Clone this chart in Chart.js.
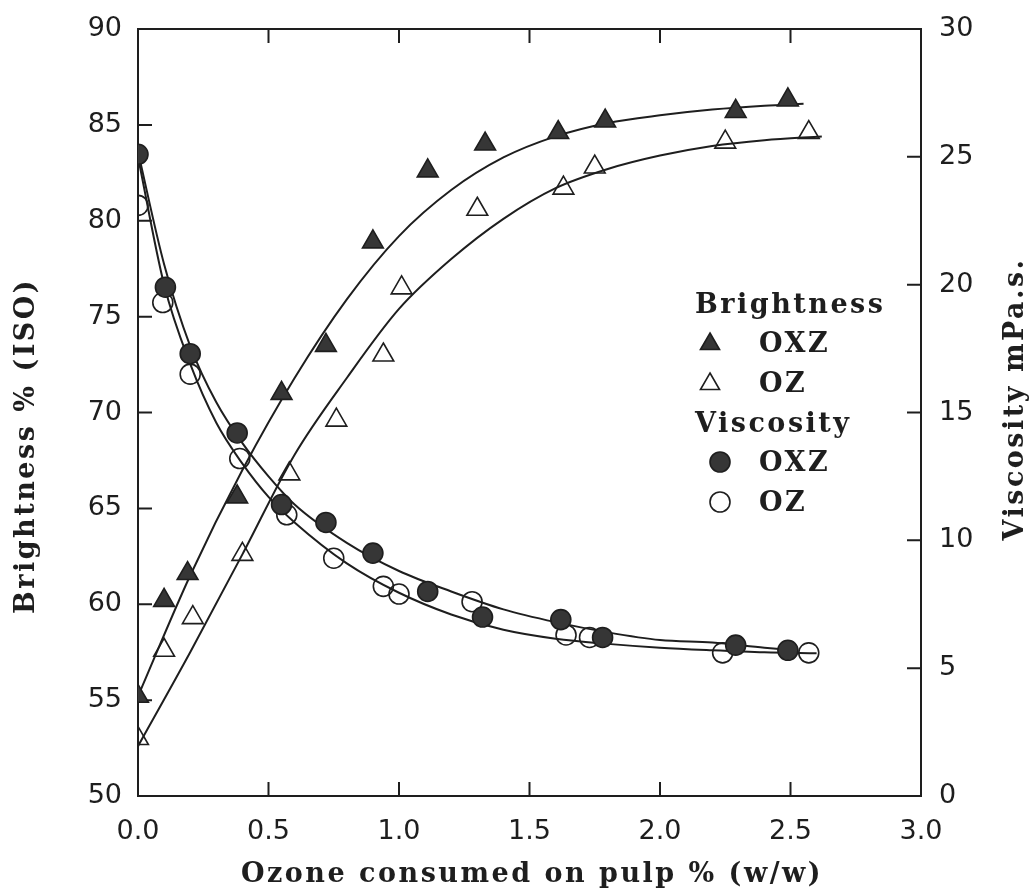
<!DOCTYPE html>
<html>
<head>
<meta charset="utf-8">
<script src="https://cdn.jsdelivr.net/npm/chart.js@4/dist/chart.umd.min.js"></script>
<style>html,body{margin:0;background:#fff}</style>
</head>
<body>
<canvas id="c" width="1033" height="894"></canvas>
<script>
// measured points - brightness (left axis)
const bOXZ_x = [0.00, 0.10, 0.19, 0.38, 0.55, 0.72, 0.90, 1.11, 1.33, 1.61, 1.79, 2.29, 2.49]
const bOXZ_y = [55.2, 60.2, 61.6, 65.6, 71.0, 73.5, 78.9, 82.6, 84.0, 84.6, 85.2, 85.7, 86.3]
const bOZ_x = [0.00, 0.10, 0.21, 0.40, 0.58, 0.76, 0.94, 1.01, 1.30, 1.63, 1.75, 2.25, 2.57]
const bOZ_y = [53.0, 57.6, 59.3, 62.6, 66.8, 69.6, 73.0, 76.5, 80.6, 81.7, 82.8, 84.1, 84.6]

// measured points - viscosity (right axis)
const vOXZ_x = [0.00, 0.105, 0.20, 0.38, 0.55, 0.72, 0.90, 1.11, 1.32, 1.62, 1.78, 2.29, 2.49]
const vOXZ_y = [25.1, 19.9, 17.3, 14.2, 11.4, 10.7, 9.5, 8.0, 7.0, 6.9, 6.2, 5.9, 5.7]
const vOZ_x = [0.00, 0.095, 0.20, 0.39, 0.57, 0.75, 0.94, 1.00, 1.28, 1.64, 1.73, 2.24, 2.57]
const vOZ_y = [23.1, 19.3, 16.5, 13.2, 11.0, 9.3, 8.2, 7.9, 7.6, 6.3, 6.2, 5.6, 5.6]

// fitted curves
const fitBOXZ_x = [0, 0.2, 0.4, 0.6, 0.8, 1.0, 1.2, 1.4, 1.6, 1.8, 2.0, 2.2, 2.4, 2.55]
const fitBOXZ_y = [55.2, 61.5, 67.0, 71.8, 75.9, 79.2, 81.6, 83.3, 84.4, 85.1, 85.5, 85.8, 86.0, 86.1]
const fitBOZ_x = [0, 0.2, 0.4, 0.6, 0.8, 1.0, 1.2, 1.4, 1.6, 1.8, 2.0, 2.2, 2.4, 2.62]
const fitBOZ_y = [52.6, 57.5, 62.6, 67.8, 71.8, 75.4, 78.0, 80.1, 81.7, 82.7, 83.4, 83.9, 84.2, 84.4]
const fitVOXZ_x = [0, 0.1, 0.2, 0.3, 0.4, 0.5, 0.6, 0.8, 1.0, 1.2, 1.4, 1.6, 1.8, 2.0, 2.2, 2.4, 2.52]
const fitVOXZ_y = [25.2, 20.8, 17.6, 15.4, 13.8, 12.5, 11.4, 9.9, 8.8, 8.0, 7.3, 6.8, 6.4, 6.1, 6.0, 5.8, 5.7]
const fitVOZ_x = [0, 0.1, 0.2, 0.3, 0.4, 0.5, 0.6, 0.8, 1.0, 1.2, 1.4, 1.6, 1.8, 2.0, 2.2, 2.4, 2.6]
const fitVOZ_y = [25.0, 20.0, 16.9, 14.6, 13.0, 11.7, 10.7, 9.1, 7.95, 7.1, 6.5, 6.15, 5.95, 5.8, 5.7, 5.62, 5.58]

const xTitle = 'Ozone consumed on pulp % (w/w)'
const yTitle = 'Brightness % (ISO)'
const y2Title = 'Viscosity mPa.s.'

const ink = '#1e1e1e'
const fillDark = '#363636'
const tickFont = {family: 'DejaVu Sans', size: 27}
const typeFont = 'bold 27px "DejaVu Serif"'

const pts = (xs, ys) => xs.map((x, i) => ({x: x, y: ys[i]}))

function curve(xs, ys, axis) {
    return {
        type: 'line', data: pts(xs, ys), yAxisID: axis, order: 2,
        borderColor: ink, borderWidth: 2, pointRadius: 0,
        cubicInterpolationMode: 'monotone', fill: false
    }
}
function marks(xs, ys, axis, style, filled, r) {
    return {
        type: 'scatter', data: pts(xs, ys), yAxisID: axis, order: 1,
        pointStyle: style, pointRadius: r, pointHoverRadius: r,
        pointBackgroundColor: filled ? fillDark : 'rgba(0,0,0,0)',
        pointBorderColor: ink, pointBorderWidth: 1.6
    }
}

const deco = {
    id: 'deco',
    beforeDatasetsDraw(chart) {
        const {ctx, chartArea: a, scales} = chart
        ctx.save()
        ctx.strokeStyle = ink
        ctx.lineWidth = 2
        ctx.strokeRect(a.left, a.top, a.right - a.left, a.bottom - a.top)
        const L = 14
        ctx.beginPath()
        scales.y.ticks.forEach(t => {
            const p = scales.y.getPixelForValue(t.value)
            ctx.moveTo(a.left, p); ctx.lineTo(a.left + L, p)
        })
        scales.y2.ticks.forEach(t => {
            const p = scales.y2.getPixelForValue(t.value)
            ctx.moveTo(a.right, p); ctx.lineTo(a.right - L, p)
        })
        scales.x.ticks.forEach(t => {
            const p = scales.x.getPixelForValue(t.value)
            ctx.moveTo(p, a.bottom); ctx.lineTo(p, a.bottom - L)
            ctx.moveTo(p, a.top); ctx.lineTo(p, a.top + L)
        })
        ctx.stroke()
        ctx.restore()
    },
    afterDraw(chart) {
        const {ctx} = chart
        ctx.save()
        ctx.fillStyle = ink
        ctx.font = typeFont
        ctx.letterSpacing = '2.5px'
        // axis titles
        ctx.textAlign = 'center'
        ctx.textBaseline = 'alphabetic'
        ctx.fillText(xTitle, 532, 882)
        ctx.save(); ctx.translate(34, 446); ctx.rotate(-Math.PI / 2)
        ctx.fillText(yTitle, 0, 0); ctx.restore()
        ctx.save(); ctx.translate(1023, 399); ctx.rotate(-Math.PI / 2)
        ctx.fillText(y2Title, 0, 0); ctx.restore()

        // legend
        ctx.textAlign = 'left'
        const rows = [
            ['Brightness', null, 695, 313],
            ['OXZ', 'tf', 759, 352],
            ['OZ', 'to', 759, 392],
            ['Viscosity', null, 695, 432],
            ['OXZ', 'cf', 759, 471],
            ['OZ', 'co', 759, 511]
        ]
        rows.forEach(([txt, m, x, y]) => {
            ctx.fillStyle = ink
            ctx.fillText(txt, x, y)
            if (!m) return
            ctx.beginPath()
            if (m[0] === 't') {
                const cx = 710, cy = y - 8, r = 11
                ctx.moveTo(cx, cy - r)
                ctx.lineTo(cx + r * 0.866, cy + r * 0.5)
                ctx.lineTo(cx - r * 0.866, cy + r * 0.5)
                ctx.closePath()
            } else {
                ctx.arc(720, y - 9, 10, 0, Math.PI * 2)
            }
            ctx.fillStyle = m[1] === 'f' ? fillDark : '#fff'
            ctx.fill()
            ctx.lineWidth = 1.6
            ctx.strokeStyle = ink
            ctx.stroke()
        })
        ctx.restore()
    }
}

new Chart(document.getElementById('c').getContext('2d'), {
    data: {
        datasets: [
            marks(bOXZ_x, bOXZ_y, 'y', 'triangle', true, 12),
            marks(bOZ_x, bOZ_y, 'y', 'triangle', false, 12),
            marks(vOXZ_x, vOXZ_y, 'y2', 'circle', true, 10),
            marks(vOZ_x, vOZ_y, 'y2', 'circle', false, 10),
            curve(fitBOXZ_x, fitBOXZ_y, 'y'),
            curve(fitBOZ_x, fitBOZ_y, 'y'),
            curve(fitVOXZ_x, fitVOXZ_y, 'y2'),
            curve(fitVOZ_x, fitVOZ_y, 'y2')
        ]
    },
    options: {
        responsive: false,
        animation: false,
        events: [],
        layout: {padding: {top: 29, left: 0, right: 0, bottom: 0}},
        plugins: {legend: {display: false}, tooltip: {enabled: false}},
        scales: {
            x: {
                type: 'linear', position: 'bottom', min: 0, max: 3,
                grid: {display: false}, border: {display: false},
                ticks: {stepSize: 0.5, padding: 12, color: ink, font: tickFont,
                    callback: v => v.toFixed(1), maxRotation: 0},
                afterFit: s => { s.height = 98 }
            },
            y: {
                type: 'linear', position: 'left', min: 50, max: 90,
                grid: {display: false}, border: {display: false},
                ticks: {stepSize: 5, padding: 8, color: ink, font: tickFont},
                afterFit: s => { s.width = 138 }
            },
            y2: {
                type: 'linear', position: 'right', min: 0, max: 30,
                grid: {display: false}, border: {display: false},
                ticks: {stepSize: 5, padding: 10, color: ink, font: tickFont},
                afterFit: s => { s.width = 112 }
            }
        }
    },
    plugins: [deco]
})
</script>
</body>
</html>
